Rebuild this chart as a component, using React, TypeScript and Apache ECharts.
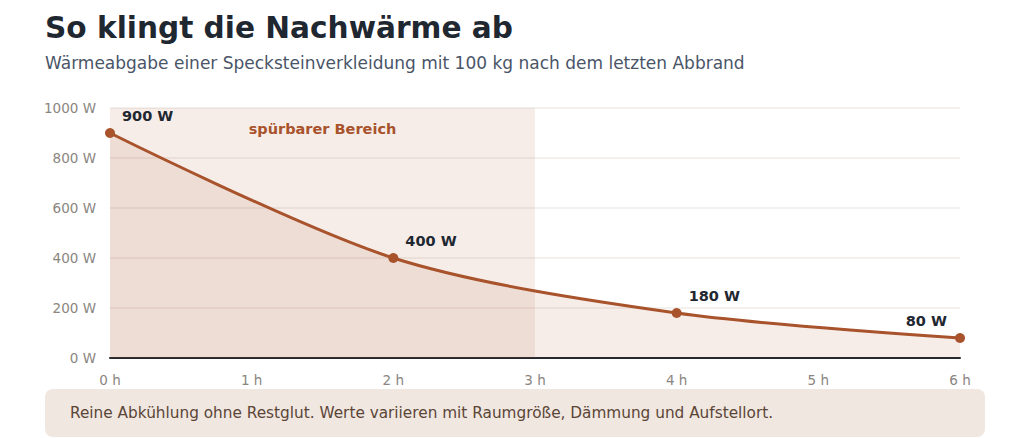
import React, { useEffect, useRef } from "react";
import * as echarts from "echarts";

const hours = [0, 2, 4, 6];
const watts = [900, 400, 180, 80];
const labelTexts = ["900 W", "400 W", "180 W", "80 W"];
const yTicks = [0, 200, 400, 600, 800, 1000];
const xTicks = [0, 1, 2, 3, 4, 5, 6];
const zoneStart = 0;
const zoneEnd = 3;
const zoneLabel = "spürbarer Bereich";
const titleText = "So klingt die Nachwärme ab";
const subtitleText = "Wärmeabgabe einer Specksteinverkleidung mit 100 kg nach dem letzten Abbrand";
const noteText = "Reine Abkühlung ohne Restglut. Werte variieren mit Raumgröße, Dämmung und Aufstellort.";

const FONT = "DejaVu Sans, Noto Sans, sans-serif";
const ACCENT = "#a8532c";
const DARK = "#1f2731";

export default function App() {
  const ref = useRef<HTMLDivElement>(null);
  useEffect(() => {
    if (!ref.current) return;
    const chart = echarts.init(ref.current, undefined, { renderer: "svg" });
    const data = hours.map((h, i) => {
      const last = i === hours.length - 1;
      return {
        value: [h, watts[i]],
        label: {
          show: true,
          formatter: labelTexts[i],
          position: "top",
          distance: 5,
          align: last ? "right" : "left",
          offset: last ? [-13, 0] : [12, 0],
          fontFamily: FONT,
          fontSize: 14.5,
          fontWeight: "bold",
          color: DARK,
        },
      };
    });
    chart.setOption({
      animation: false,
      textStyle: { fontFamily: FONT },
      title: [
        {
          text: titleText,
          left: 40,
          top: 8,
          textStyle: { fontFamily: FONT, fontSize: 29.6, fontWeight: "bold", color: DARK },
        },
        {
          text: subtitleText,
          left: 40,
          top: 49,
          textStyle: { fontFamily: FONT, fontSize: 17, fontWeight: "normal", color: "#4a5568" },
        },
      ],
      grid: { left: 110, right: 70, top: 108, bottom: 80, containLabel: false },
      xAxis: {
        type: "value",
        min: xTicks[0],
        max: xTicks[xTicks.length - 1],
        interval: 1,
        axisLine: { show: true, onZero: false, lineStyle: { color: DARK, width: 2 } },
        axisTick: { show: false },
        splitLine: { show: false },
        axisLabel: {
          formatter: (v: number) => `${v} h`,
          color: "#8a8580",
          fontSize: 13.5,
          fontFamily: FONT,
          margin: 15,
        },
      },
      yAxis: {
        type: "value",
        min: yTicks[0],
        max: yTicks[yTicks.length - 1],
        interval: 200,
        axisLine: { show: false },
        axisTick: { show: false },
        splitLine: { show: true, lineStyle: { color: "#efebe8", width: 1.5 } },
        axisLabel: {
          formatter: (v: number) => `${v} W`,
          color: "#8a8580",
          fontSize: 13.5,
          fontFamily: FONT,
          margin: 14,
        },
      },
      series: [
        {
          type: "line",
          data,
          smooth: 0.3,
          symbol: "circle",
          symbolSize: 10,
          showSymbol: true,
          lineStyle: { color: ACCENT, width: 3 },
          itemStyle: { color: ACCENT },
          areaStyle: { color: "rgba(168,83,44,0.15)" },
          markArea: {
            silent: true,
            itemStyle: { color: "rgba(168,83,44,0.10)" },
            label: {
              show: true,
              position: "insideTop",
              distance: 13,
              color: ACCENT,
              fontFamily: FONT,
              fontSize: 14.5,
              fontWeight: "bold",
            },
            data: [[{ name: zoneLabel, xAxis: zoneStart }, { xAxis: zoneEnd }]],
          },
          z: 3,
        },
      ],
      graphic: [
        {
          type: "rect",
          left: 45,
          top: 389,
          shape: { width: 940, height: 48, r: 8 },
          style: { fill: "#f0e7e1" },
          z: 0,
        },
        {
          type: "text",
          left: 70,
          top: 405,
          style: {
            text: noteText,
            fill: "#5b4536",
            fontFamily: FONT,
            fontSize: 15.3,
          },
          z: 1,
        },
      ],
    });
    return () => chart.dispose();
  }, []);
  return (
    <div
      ref={ref}
      style={{ position: "fixed", left: 0, top: 0, width: 1030, height: 438, background: "#ffffff" }}
    />
  );
}
